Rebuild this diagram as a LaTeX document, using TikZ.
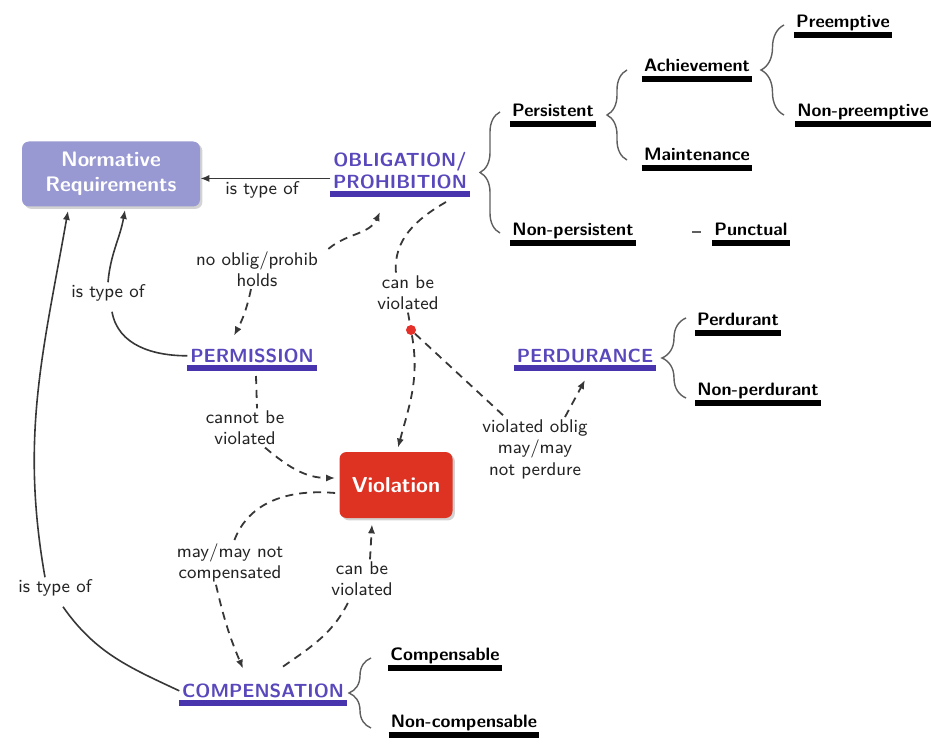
\documentclass[tikz,border=0pt]{standalone}
\usetikzlibrary{arrows.meta,decorations.pathreplacing,shadows}
\definecolor{cblue}{RGB}{88,72,188}
\definecolor{barblue}{RGB}{72,52,172}
\definecolor{normfill}{RGB}{152,152,210}
\definecolor{violred}{RGB}{222,50,34}
\definecolor{dotred}{RGB}{228,48,40}
\definecolor{lineg}{RGB}{55,55,55}
\definecolor{braceg}{RGB}{95,95,95}
\definecolor{textg}{RGB}{35,35,35}
\begin{document}
\begin{tikzpicture}[x=0.5pt,y=-0.5pt,
  lbl/.style={font=\sffamily\fontsize{9.2}{10.7}\selectfont, align=center, inner sep=1pt, text=textg},
  bar/.style={append after command={(\tikzlastnode.south west) edge[draw=#1, line width=2.9pt] (\tikzlastnode.south east)}},
  term/.style={font=\sffamily\bfseries\fontsize{9}{10}\selectfont, text=black, inner xsep=1pt, inner ysep=1pt, text depth=.25em, anchor=south, bar=black},
  concept/.style={font=\sffamily\bfseries\fontsize{9.5}{11}\selectfont, text=cblue, align=center, inner xsep=1.2pt, inner ysep=2.5pt, text depth=0pt, anchor=south, bar=barblue},
  box/.style={rounded corners=3.5pt, align=center, text=white, font=\sffamily\bfseries\fontsize{10.5}{12.5}\selectfont,
    drop shadow={opacity=0.35, shadow xshift=1.2pt, shadow yshift=-1.2pt}},
  br/.style={draw=braceg, line width=0.7pt, decorate, decoration={brace, amplitude=#1}},
  dsh/.style={draw=lineg, line width=0.9pt, dash pattern=on 4pt off 3pt},
  sol/.style={draw=lineg, line width=0.8pt},
  arr/.style={-{Latex[length=4.5pt,width=3.6pt]}}
]
\useasboundingbox (0,0) rectangle (933,738);

% main concepts
\node[box, fill=normfill, minimum width=89pt, minimum height=32.5pt] (norm) at (111,174) {Normative\\Requirements};
\node[box, fill=violred, minimum width=56.5pt, minimum height=33pt, font=\sffamily\bfseries\fontsize{10.8}{12}\selectfont] (viol) at (396,485) {Violation};
\node[concept] (obl) at (400,194) {OBLIGATION/\\PROHIBITION};
\node[concept] (perm) at (252,368) {PERMISSION};
\node[concept] (perd) at (585,368) {PERDURANCE};
\node[concept] (comp) at (263,703) {COMPENSATION};

% sub-types
\node[term] (per) at (553,124) {Persistent};
\node[term] (ach) at (697,79) {Achievement};
\node[term] (pre) at (843,35) {Preemptive};
\node[term] (npre) at (863,124) {Non-preemptive};
\node[term] (mai) at (697,168) {Maintenance};
\node[term] (nper) at (573,243) {Non-persistent};
\node[term] (pun) at (751,243) {Punctual};
\node[term] (pd) at (738,333) {Perdurant};
\node[term] (npd) at (758,403) {Non-perdurant};
\node[term] (cmp) at (445,668) {Compensable};
\node[term] (ncmp) at (464,735) {Non-compensable};

% braces
\draw[br=10pt] (500,233) -- (500,112);
\draw[br=10pt] (627,160) -- (627,70);
\draw[br=11.5pt] (784,115) -- (784,25);
\draw[br=12pt] (686,398) -- (686,318);
\draw[br=11pt] (371,728) -- (371,658);
\draw[draw=braceg, line width=0.9pt] ([xshift=-10pt]pun.west) -- ([xshift=-5.5pt]pun.west);

% linking phrases
\node[lbl] (t1) at (262,190) {is type of};
\node[lbl] (t2) at (108,293) {is type of};
\node[lbl] (t3) at (55,588) {is type of};
\node[lbl] (noob) at (257,269) {no oblig/prohib\\holds};
\node[lbl] (cbv1) at (408,293) {can be\\violated};
\node[lbl] (vop) at (535,449) {violated oblig\\may/may\\not perdure};
\node[lbl] (cnbv) at (245,428) {cannot be\\violated};
\node[lbl] (mmc) at (230,563) {may/may not\\compensated};
\node[lbl] (cbv2) at (362,579) {can be\\violated};
\node[circle, fill=dotred, inner sep=0pt, minimum size=5pt] (dot) at (411,330) {};

% is-type-of links
\draw[sol, arr] ([yshift=-4pt]obl.west) -- ([yshift=-4pt]obl.west -| norm.east);
\draw[sol] (perm.west) to[out=180, in=-80] ([xshift=2pt, yshift=-4pt]t2.south);
\draw[sol, arr] (t2.north) to[out=85, in=-100] ([xshift=7pt, yshift=-1.5pt]norm.south);
\draw[sol] (comp.west) to[out=155, in=-55] ([xshift=4pt, yshift=-4pt]t3.south);
\draw[sol, arr] ([xshift=-5pt]t3.north) to[out=100, in=-100] ([xshift=-21.5pt, yshift=-2pt]norm.south);

% dashed relations
\draw[dsh, arr] ([xshift=4pt]noob.north east) to[out=40, in=-115] ([xshift=-10pt, yshift=-9pt]obl.south);
\draw[dsh, arr] ([xshift=-3pt]noob.south) to[bend left=8] ([xshift=-9pt, yshift=4pt]perm.north);
\draw[dsh] ([xshift=23pt, yshift=-4pt]obl.south) to[out=-150, in=95] ([xshift=-6pt]cbv1.north);
\draw[dsh] (cbv1.south) -- (dot);
\draw[dsh, arr] (dot) to[out=-80, in=75] ([xshift=1pt, yshift=2pt]viol.north);
\draw[dsh] (dot) -- ([xshift=-15pt]vop.north);
\draw[dsh, arr] ([xshift=15pt]vop.north) -- ([yshift=-6pt]perd.south);
\draw[dsh] ([xshift=2pt, yshift=-4pt]perm.south) -- ([xshift=6pt]cnbv.north);
\draw[dsh, arr] ([xshift=10pt]cnbv.south) to[out=-40, in=180] ([xshift=-2pt, yshift=3.5pt]viol.west);
\draw[dsh] ([xshift=-2pt, yshift=-4pt]viol.west) to[out=175, in=70] ([xshift=2pt]mmc.north);
\draw[dsh, arr] ([xshift=-7pt]mmc.south) to[bend right=5] ([xshift=-10pt, yshift=5pt]comp.north);
\draw[dsh] ([xshift=10pt, yshift=6pt]comp.north) to[out=35, in=-115] ([xshift=-6pt]cbv2.south);
\draw[dsh, arr] ([xshift=4pt]cbv2.north) -- ([xshift=-12pt, yshift=-3pt]viol.south);
\end{tikzpicture}
\end{document}
